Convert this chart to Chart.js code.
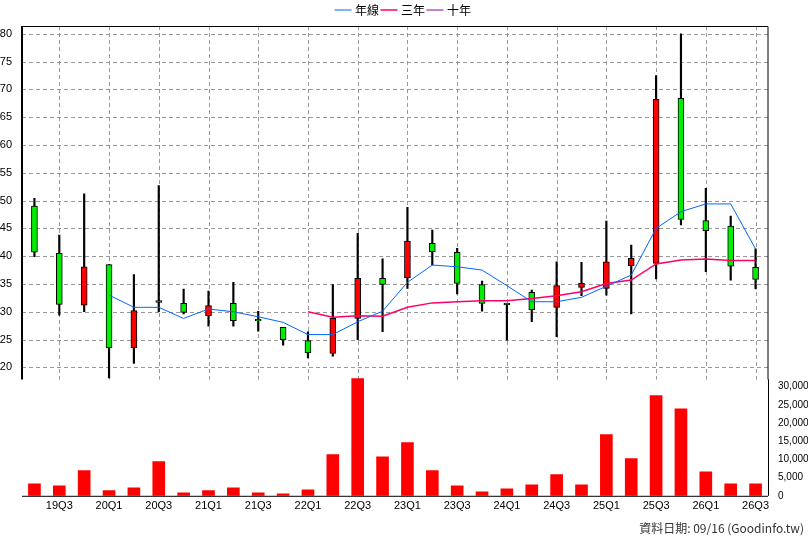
<!DOCTYPE html>
<html><head><meta charset="utf-8">
<script src="https://cdn.jsdelivr.net/npm/chart.js@4"></script>
<style>body{margin:0;background:#fff}#wrap{width:808px;height:540px}</style>
</head><body><div id="wrap"><canvas id="c"></canvas></div>
<script>
const quarters = ["19Q2","19Q3","19Q4","20Q1","20Q2","20Q3","20Q4","21Q1","21Q2","21Q3","21Q4","22Q1","22Q2","22Q3","22Q4","23Q1","23Q2","23Q3","23Q4","24Q1","24Q2","24Q3","24Q4","25Q1","25Q2","25Q3","25Q4","26Q1","26Q2","26Q3"];
const open  = [49.0,40.5,31.2,38.5,23.5,32.0,31.5,29.3,31.5,28.5,27.2,24.8,22.5,28.8,36.0,36.1,42.3,40.7,34.9,31.4,33.5,30.8,34.4,34.2,38.3,38.7,68.4,46.4,45.4,38.0];
const high  = [50.4,43.8,51.2,38.5,36.7,52.7,34.1,33.7,35.3,30.1,27.2,26.4,34.9,44.1,39.5,48.8,44.7,41.4,35.5,31.4,33.9,39.0,38.9,46.3,42.0,72.5,80.0,52.2,47.2,41.3];
const low   = [39.9,29.4,30.0,18.1,20.7,30.0,29.6,27.4,27.4,26.5,24.0,21.7,22.0,25.0,26.4,34.2,38.4,33.2,30.1,24.9,28.2,25.5,32.9,33.0,29.6,35.9,45.6,37.2,35.7,34.1];
const close = [40.7,31.3,38.1,23.5,30.2,31.7,29.9,31.1,28.4,28.3,25.0,22.6,28.8,36.0,34.9,42.7,40.8,35.1,31.5,31.2,30.4,34.7,35.1,39.0,39.6,68.2,46.6,44.6,38.2,35.8];
const maYear = [null,null,null,33.0,30.8,30.8,28.8,30.5,30.0,29.1,28.1,25.9,25.9,28.2,30.1,35.3,38.4,38.1,37.5,34.7,31.8,31.8,32.6,34.6,36.6,45.0,48.0,49.4,49.4,41.3];
const ma3y = [null,null,null,null,null,null,null,null,null,null,null,30.0,29.0,29.3,29.2,30.8,31.6,31.8,32.0,32.0,32.4,32.9,33.6,35.1,35.7,38.6,39.3,39.5,39.2,39.2];
const ma10y = quarters.map(() => null);
const volume = [3300,2750,6900,1400,2200,9400,800,1400,2200,800,550,1650,11300,32200,10700,14600,6900,2750,1100,1900,3000,5800,3000,16800,10200,27500,23900,6600,3300,3300];

const up = open.map((o, i) => close[i] >= o);
const bodyColor = up.map(u => u ? '#ff0000' : '#00ee00');

const priceGrid = {
  id: 'priceGrid',
  beforeDatasetsDraw(chart) {
    const c = chart.ctx, x = chart.scales.x, y = chart.scales.y;
    const top = chart.chartArea.top, bot = y.getPixelForValue(17.8);
    c.save();
    c.strokeStyle = '#999'; c.lineWidth = 1; c.setLineDash([4, 3]);
    for (let v = 20; v <= 80; v += 5) {
      const py = Math.round(y.getPixelForValue(v)) + 0.5;
      c.beginPath(); c.moveTo(chart.chartArea.left, py); c.lineTo(chart.chartArea.right, py); c.stroke();
    }
    for (let i = 1; i < quarters.length; i += 2) {
      const px = Math.round(x.getPixelForValue(i)) + 0.5;
      c.beginPath(); c.moveTo(px, top); c.lineTo(px, bot); c.stroke();
    }
    c.setLineDash([]);
    c.strokeStyle = '#000'; c.lineWidth = 1;
    c.beginPath(); c.moveTo(chart.chartArea.left, top + 0.5); c.lineTo(chart.chartArea.right, top + 0.5);
    c.lineTo(chart.chartArea.right, bot); c.stroke();
    c.lineWidth = 2;
    c.beginPath(); c.moveTo(chart.chartArea.left, top); c.lineTo(chart.chartArea.left, bot); c.stroke();
    c.restore();
  },
  afterDraw(chart) {
    const c = chart.ctx, a = chart.chartArea;
    c.save();
    c.strokeStyle = '#000'; c.lineWidth = 1;
    c.beginPath(); c.moveTo(a.left, a.bottom + 0.5); c.lineTo(a.right, a.bottom + 0.5); c.stroke();
    const yv = chart.scales.yv;
    c.beginPath(); c.moveTo(a.right + 0.5, yv.getPixelForValue(32000)); c.lineTo(a.right + 0.5, a.bottom); c.stroke();
    c.fillStyle = '#333'; c.font = '12px "Noto Sans CJK TC", sans-serif'; c.textAlign = 'right';
    c.fillText('資料日期: 09/16 (Goodinfo.tw)', 804, 528);
    c.restore();
  }
};

new Chart(document.getElementById('c'), {
  type: 'bar',
  data: {
    labels: quarters,
    datasets: [
      { label: '年線', type: 'line', data: maYear, borderColor: '#0066ff', backgroundColor: '#0066ff', borderWidth: 1, pointRadius: 0, yAxisID: 'y', order: 0 },
      { label: '三年', type: 'line', data: ma3y, borderColor: '#ff0066', backgroundColor: '#ff0066', borderWidth: 1.5, pointRadius: 0, yAxisID: 'y', order: 0 },
      { label: '十年', type: 'line', data: ma10y, borderColor: '#990099', backgroundColor: '#990099', borderWidth: 1, pointRadius: 0, yAxisID: 'y', order: 0 },
      { label: 'wick', data: low.map((l, i) => [l, high[i]]), backgroundColor: '#000', barThickness: 1.5, grouped: false, yAxisID: 'y', order: 2 },
      { label: 'body', data: open.map((o, i) => Math.abs(o - close[i]) < 0.3 ? [o - 0.15, o + 0.15] : [o, close[i]]), backgroundColor: bodyColor, borderColor: '#000', borderWidth: 1, borderSkipped: false, barThickness: 6, grouped: false, yAxisID: 'y', order: 1 },
      { label: 'vol', data: volume, backgroundColor: '#ff0000', barThickness: 12, grouped: false, yAxisID: 'yv', order: 3 }
    ]
  },
  options: {
    responsive: true, maintainAspectRatio: false, animation: false,
    layout: { padding: { top: 0, bottom: 27, right: 0 } },
    plugins: {
      legend: {
        labels: { filter: it => ['年線', '三年', '十年'].includes(it.text), usePointStyle: true, pointStyle: 'line', boxWidth: 12, padding: 4, color: '#000', font: { size: 12, family: '"Noto Sans CJK TC", sans-serif' } }
      },
      tooltip: { enabled: false }
    },
    scales: {
      x: {
        offset: true,
        grid: { display: false, drawTicks: true, tickLength: 4 },
        border: { display: false },
        ticks: { autoSkip: false, maxRotation: 0, color: '#000', font: { size: 11 }, padding: 0, callback: (v, i) => i % 2 === 1 ? quarters[i] : '' }
      },
      y: {
        position: 'left', min: -3.1, max: 81.4,
        afterBuildTicks: s => { s.ticks = [20,25,30,35,40,45,50,55,60,65,70,75,80].map(v => ({ value: v })); },
        afterFit: s => { s.width = 22; },
        grid: { display: false }, border: { display: false },
        ticks: { color: '#000', font: { size: 11 }, padding: 2 }
      },
      yv: {
        position: 'right', min: 0, max: 129000,
        afterBuildTicks: s => { s.ticks = [0,5000,10000,15000,20000,25000,30000].map(v => ({ value: v })); },
        afterFit: s => { s.width = 40; },
        grid: { display: false }, border: { display: false },
        ticks: { color: '#000', font: { size: 10 }, padding: 2, callback: v => v.toLocaleString('en-US') }
      }
    }
  },
  plugins: [priceGrid]
});
</script></body></html>
